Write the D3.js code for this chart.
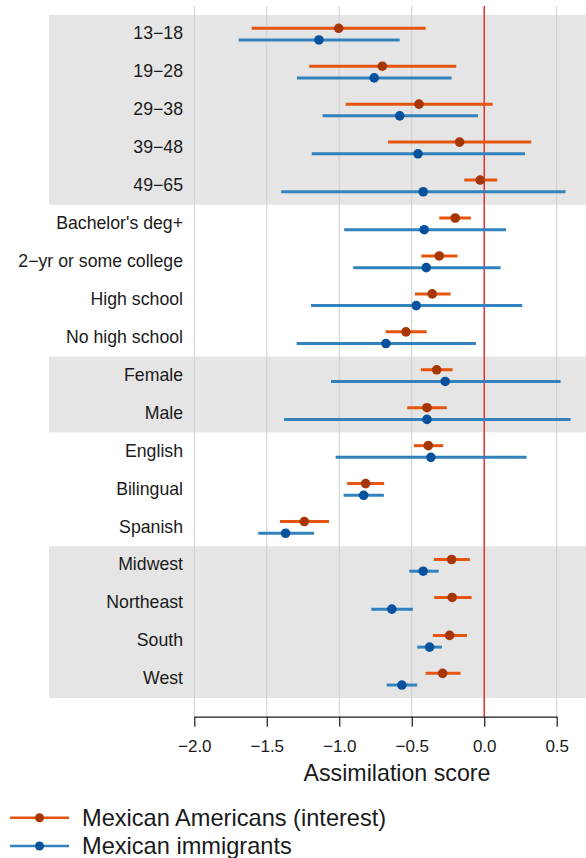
<!DOCTYPE html>
<html><head><meta charset="utf-8">
<script src="https://cdn.jsdelivr.net/npm/d3@7"></script>
<style>body{margin:0;background:#fff}svg{display:block;font-family:"Liberation Sans",Arial,sans-serif}</style>
</head><body><svg id="c" width="586" height="858"></svg>
<script>
const categories = ["13−18","19−28","29−38","39−48","49−65","Bachelor's deg+","2−yr or some college","High school","No high school","Female","Male","English","Bilingual","Spanish","Midwest","Northeast","South","West"];
const groups = [
  {name:"age", start:0, end:4, shaded:true},
  {name:"education", start:5, end:8, shaded:false},
  {name:"gender", start:9, end:10, shaded:true},
  {name:"language", start:11, end:13, shaded:false},
  {name:"region", start:14, end:17, shaded:true}
];
const amEst = [-1.004,-0.703,-0.450,-0.170,-0.028,-0.200,-0.310,-0.359,-0.540,-0.328,-0.395,-0.386,-0.818,-1.241,-0.225,-0.221,-0.239,-0.287];
const amLo  = [-1.604,-1.207,-0.956,-0.664,-0.138,-0.310,-0.434,-0.478,-0.680,-0.437,-0.531,-0.485,-0.945,-1.409,-0.347,-0.345,-0.354,-0.404];
const amHi  = [-0.404,-0.193, 0.058, 0.324, 0.090,-0.092,-0.184,-0.232,-0.397,-0.218,-0.259,-0.283,-0.690,-1.071,-0.099,-0.087,-0.119,-0.163];
const imEst = [-1.140,-0.759,-0.583,-0.457,-0.421,-0.414,-0.400,-0.469,-0.678,-0.269,-0.395,-0.368,-0.832,-1.370,-0.421,-0.637,-0.377,-0.568];
const imLo  = [-1.694,-1.292,-1.115,-1.190,-1.400,-0.966,-0.903,-1.195,-1.294,-1.057,-1.381,-1.025,-0.970,-1.559,-0.517,-0.779,-0.462,-0.673];
const imHi  = [-0.583,-0.225,-0.043, 0.281, 0.561, 0.150, 0.113, 0.262,-0.057, 0.527, 0.596, 0.292,-0.692,-1.174,-0.314,-0.492,-0.292,-0.462];
const xTicks = [-2.0,-1.5,-1.0,-0.5,0.0,0.5];
const seriesNames = ["Mexican Americans (interest)","Mexican immigrants"];

const series = [
  {name:seriesNames[0], est:amEst, lo:amLo, hi:amHi, line:"#e6550d", dot:"#a63603", off:-5.7},
  {name:seriesNames[1], est:imEst, lo:imLo, hi:imHi, line:"#3182bd", dot:"#08519c", off:6}
];

const svg = d3.select("#c");
const x = d3.scaleLinear().domain([-2,0.5]).range([194.3,556.7]);
const y = d3.scaleBand().domain(categories).range([15,698]);
const axisY = 716.7;

// bands
svg.append("g").selectAll("rect").data(groups.filter(g=>g.shaded)).join("rect")
  .attr("x",49).attr("width",586-49)
  .attr("y",g=>y(categories[g.start]))
  .attr("height",g=>y(categories[g.end])+y.bandwidth()-y(categories[g.start]))
  .attr("fill","#e5e5e5");

// gridlines
svg.append("g").selectAll("line").data(xTicks).join("line")
  .attr("x1",d=>x(d)).attr("x2",d=>x(d)).attr("y1",6).attr("y2",axisY)
  .attr("stroke","#cfcfcf").attr("stroke-width",1);

// zero line
svg.append("line").attr("x1",x(0)).attr("x2",x(0)).attr("y1",6).attr("y2",axisY)
  .attr("stroke","#f0141e").attr("stroke-width",1.3);

// category labels
svg.append("g").selectAll("text").data(categories).join("text")
  .attr("x",183).attr("y",d=>y(d)+y.bandwidth()/2+5.3)
  .attr("text-anchor","end").attr("font-size","17.7px").attr("fill","#1a1a1a")
  .text(d=>d);

// series
series.forEach(s=>{
  const g = svg.append("g");
  const idx = d3.range(categories.length);
  g.selectAll("line").data(idx).join("line")
    .attr("x1",i=>x(s.lo[i])).attr("x2",i=>x(s.hi[i]))
    .attr("y1",i=>y(categories[i])+y.bandwidth()/2+s.off)
    .attr("y2",i=>y(categories[i])+y.bandwidth()/2+s.off)
    .attr("stroke",s.line).attr("stroke-width",3);
  g.selectAll("circle").data(idx).join("circle")
    .attr("cx",i=>x(s.est[i]))
    .attr("cy",i=>y(categories[i])+y.bandwidth()/2+s.off)
    .attr("r",4.8).attr("fill",s.dot);
});

// axis
const ax = svg.append("g").attr("transform",`translate(0,${axisY})`)
  .call(d3.axisBottom(x).tickValues(xTicks).tickSize(10).tickSizeOuter(0).tickPadding(13)
    .tickFormat(d=>d3.format(".1f")(d).replace("-","−")));
ax.select(".domain").attr("stroke","#1a1a1a").attr("stroke-width",1.2);
ax.selectAll(".tick line").attr("stroke","#1a1a1a").attr("stroke-width",1.2);
ax.selectAll(".tick text").attr("font-size","17px").attr("fill","#1a1a1a").attr("font-family","Liberation Sans, Arial, sans-serif");

svg.append("text").attr("x",397).attr("y",781).attr("text-anchor","middle")
  .attr("font-size","23.2px").attr("fill","#1a1a1a").text("Assimilation score");

// legend
const leg = svg.append("g");
series.forEach((s,k)=>{
  const ly = [817.7,846][k];
  leg.append("line").attr("x1",10).attr("x2",69).attr("y1",ly).attr("y2",ly)
    .attr("stroke",s.line).attr("stroke-width",2.5);
  leg.append("circle").attr("cx",39.5).attr("cy",ly).attr("r",4.5).attr("fill",s.dot);
  leg.append("text").attr("x",82).attr("y",ly+8).attr("font-size","23.6px").attr("fill","#1a1a1a").text(s.name);
});
</script></body></html>
